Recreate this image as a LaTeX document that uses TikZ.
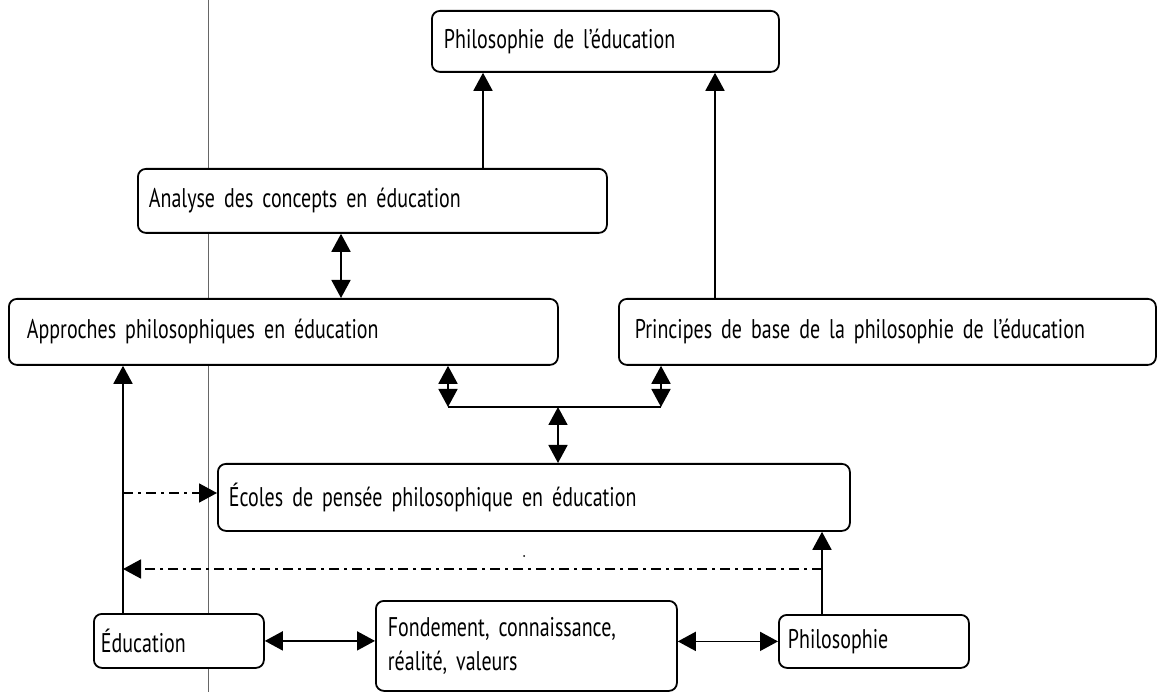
\documentclass[tikz,border=0pt]{standalone}
\usepackage{fontspec}
\setmainfont{PT Sans}[FakeStretch=0.74,WordSpace=0.8]
\usetikzlibrary{arrows.meta}
\begin{document}
\begin{tikzpicture}[x=1pt,y=-1pt,
  box/.style={draw, line width=1.8pt, rounded corners=8pt, fill=white, anchor=north west,
    inner ysep=0pt, align=left, font=\fontsize{27}{34}\selectfont},
  arr/.style={line width=1.8pt, -{Triangle[length=18pt,width=19pt]}},
  darr/.style={line width=1.8pt, {Triangle[length=18pt,width=19pt]}-{Triangle[length=18pt,width=19pt]}},
  dd/.style={arr, dash pattern=on 10pt off 5pt on 3pt off 5pt},
  rule/.style={line width=1.8pt}]
\useasboundingbox (0,0) rectangle (1157,692);
% grey guide line
\draw[gray!80!black, line width=0.9pt] (208,0) -- (208,692);
% boxes
\node[box, inner xsep=12pt, text width=323pt, minimum height=61pt] (pe) at (431,10) {Philosophie de l’éducation};
\node[box, inner xsep=11pt, text width=447pt, minimum height=64pt] (ana) at (137,168) {Analyse des concepts en éducation};
\node[box, inner xsep=18pt, text width=513pt, minimum height=66pt] (app) at (8,298) {Approches philosophiques en éducation};
\node[box, inner xsep=16pt, text width=505pt, minimum height=66pt] (pri) at (618,298) {Principes de base de la philosophie de l’éducation};
\node[box, inner xsep=11pt, text width=610pt, minimum height=67pt] (eco) at (217,463) {Écoles de pensée philosophique en éducation};
\node[box, inner xsep=7pt, text width=156pt, minimum height=54pt] (edu) at (93,613) {Éducation};
\node[box, inner xsep=12pt, text width=277pt, minimum height=90pt] (fond) at (375,600) {Fondement, connaissance,\\réalité, valeurs};
\node[box, inner xsep=9pt, text width=172pt, minimum height=53pt] (phi) at (778,614) {Philosophie};
% connectors
\draw[arr] (ana.north -| 483,0) -- (pe.south -| 483,0);
\draw[arr] (pri.north -| 715,0) -- (pe.south -| 715,0);
\draw[darr] (ana.south -| 341,0) -- (app.north -| 341,0);
\coordinate (jl) at (448,407);
\coordinate (jr) at (661,407);
\coordinate (jm) at (558,407);
\draw[rule] (jl) -- (jr);
\draw[darr] (app.south -| jl) -- (jl);
\draw[darr] (pri.south -| jr) -- (jr);
\draw[darr] (jm) -- (eco.north -| jm);
\draw[arr] (edu.north -| 123,0) -- (app.south -| 123,0);
\coordinate (d1) at (123,493);
\draw[dd] (d1) -- (d1 -| eco.west);
\draw[arr] (phi.north -| 822,0) -- (eco.south -| 822,0);
\coordinate (d2) at (822,569);
\coordinate (d3) at (123,569);
\draw[dd] (d2) -- (d3);
\draw[darr] (edu.east) -- (fond.west |- edu.east);
\draw[darr] (fond.east |- phi.west) -- (phi.west);
% stray dot
\fill (524,556) circle (1pt);
\end{tikzpicture}
\end{document}
